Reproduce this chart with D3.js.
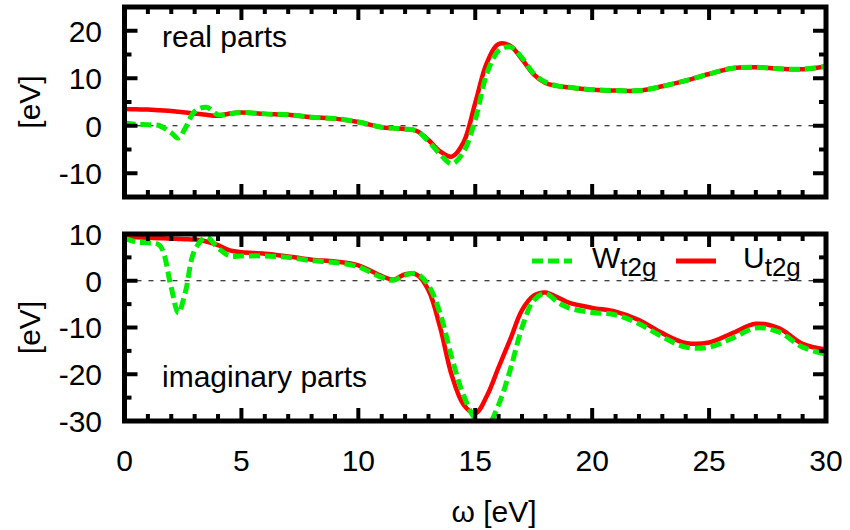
<!DOCTYPE html>
<html>
<head>
<meta charset="utf-8">
<script src="https://cdn.jsdelivr.net/npm/d3@7"></script>
<style>
	body { margin: 0; background: #fff; }
	svg { font-family: "Liberation Sans", Arial, Helvetica, sans-serif; }
</style>
</head>
<body>
<div id="chart"></div>
<script>
// omega grid [eV]
var omega = [0, 0.5, 1, 1.5, 2, 2.3, 2.6, 3, 3.5, 4, 4.5, 5, 6, 7, 8, 9, 10, 11, 11.5, 12, 12.5,
			 13, 13.5, 14, 14.5, 15, 15.5, 16, 16.5, 17, 17.5, 18, 18.5, 19, 20, 21, 22, 23, 24,
			 25, 26, 27, 28, 29, 30];

// real parts
var reU = [3.5, 3.45, 3.4, 3.25, 3.1, 2.95, 2.8, 2.6, 2.3, 2.1, 2.6, 2.8, 2.5, 2.3, 1.8, 1.5, 0.8, -0.3, -0.5, -0.7, -1.1,
		   -3.0, -5.4, -6.5, -3.5, 4.8, 13.3, 17.2, 16.8, 14.0, 10.8, 9.0, 8.4, 8.1, 7.6, 7.4, 7.4, 8.3, 9.5,
		   10.9, 12.1, 12.3, 12.0, 11.9, 12.5];
var reW = [0.6, 0.3, 0.2, 0.0, -1.5, -2.6, -0.5, 3.0, 3.9, 2.3, 2.5, 2.8, 2.5, 2.3, 1.8, 1.5, 0.8, -0.3, -0.5, -0.7, -1.1,
		   -3.3, -6.0, -8.0, -5.5, 1.3, 11.0, 15.8, 16.6, 14.3, 11.0, 9.2, 8.4, 8.1, 7.6, 7.4, 7.4, 8.3, 9.5,
		   10.9, 12.1, 12.3, 12.0, 11.9, 12.5];

// imaginary parts
var imU = [9.4, 9.3, 9.2, 9.1, 9.0, 8.95, 8.9, 8.8, 8.4, 7.6, 6.5, 6.1, 5.8, 5.2, 4.5, 4.1, 3.3, 1.0, 0.2, 1.4, 1.3,
		   -2.0, -10.0, -20.3, -26.5, -28.4, -24.6, -18.5, -12.5, -6.3, -3.2, -2.5, -3.5, -4.7, -5.8, -6.6, -8.4, -11.2, -13.3,
		   -13.2, -11.2, -9.2, -10.2, -13.5, -14.7];
var imW = [9.1, 8.3, 8.1, 7.6, -1.5, -6.9, -2.5, 6.5, 9.3, 7.0, 5.3, 5.3, 5.3, 5.0, 4.3, 3.9, 3.0, 0.7, 0.1, 1.2, 1.5,
		   -1.0, -7.0, -16.5, -24.5, -29.5, -31.0, -26.5, -19.0, -10.0, -4.2, -2.7, -4.5, -5.8, -6.8, -7.3, -9.2, -12.0, -14.2,
		   -14.2, -12.3, -10.1, -11.0, -14.2, -15.7];

var xTicks = [0, 5, 10, 15, 20, 25, 30];
var topTicks = [-10, 0, 10, 20];
var botTicks = [-30, -20, -10, 0, 10];
var legendNames = ["W", "U"];

const width = 850;
const height = 530;
const frameLeft = 124.5;
const frameRight = 826;
const fontSize = 30;
const wColor = "#00ee00";
const uColor = "#ff0000";

var svg = d3.select("#chart").append("svg")
	.attr("width", width)
	.attr("height", height)
	.style("font-size", fontSize + "px");

var x = d3.scaleLinear().domain([0, 30]).range([frameLeft, frameRight]);

var panels = [
	{ id: "re", domain: [-15, 25], range: [197, 7], ticks: topTicks, u: reU, w: reW, label: "real parts", labelY: 47 },
	{ id: "im", domain: [-30, 10], range: [421, 234], ticks: botTicks, u: imU, w: imW, label: "imaginary parts", labelY: 387 }
];

panels.forEach(function (p, pi) {
	var y = d3.scaleLinear().domain(p.domain).range(p.range);
	var top = p.range[1], bottom = p.range[0];

	svg.append("clipPath")
		.attr("id", "clip_" + p.id)
		.append("rect")
		.attr("x", frameLeft)
		.attr("y", top)
		.attr("width", frameRight - frameLeft)
		.attr("height", bottom - top);

	var g = svg.append("g");

	// zero line
	g.append("line")
		.attr("x1", frameLeft).attr("x2", frameRight)
		.attr("y1", y(0)).attr("y2", y(0))
		.attr("stroke", "#000")
		.attr("stroke-width", 1)
		.attr("stroke-dasharray", "5,7");

	var line = d3.line()
		.x((d, i) => x(omega[i]))
		.y(d => y(d))
		.curve(d3.curveCatmullRom.alpha(0.5));

	var curves = g.append("g").attr("clip-path", "url(#clip_" + p.id + ")");

	curves.append("path")
		.datum(p.u)
		.attr("d", line)
		.attr("fill", "none")
		.attr("stroke", uColor)
		.attr("stroke-width", 4.5);

	curves.append("path")
		.datum(p.w)
		.attr("d", line)
		.attr("fill", "none")
		.attr("stroke", wColor)
		.attr("stroke-width", 5)
		.attr("stroke-dasharray", "11,5");

	// ticks (inward, on all four sides)
	var minorX = d3.range(0, 31, 1).filter(v => v % 5 != 0);
	var minorY = d3.range(p.domain[0], p.domain[1] + 1, 5).filter(v => v % 10 != 0);
	var tickG = g.append("g").attr("stroke", "#000").attr("stroke-width", 4);

	[[xTicks, 13], [minorX, 7]].forEach(function (t) {
		tickG.selectAll(null).data(t[0]).join("line")
			.attr("x1", d => x(d)).attr("x2", d => x(d))
			.attr("y1", bottom).attr("y2", bottom - t[1]);
		tickG.selectAll(null).data(t[0]).join("line")
			.attr("x1", d => x(d)).attr("x2", d => x(d))
			.attr("y1", top).attr("y2", top + t[1]);
	});
	[[p.ticks, 13], [minorY, 7]].forEach(function (t) {
		tickG.selectAll(null).data(t[0]).join("line")
			.attr("y1", d => y(d)).attr("y2", d => y(d))
			.attr("x1", frameLeft).attr("x2", frameLeft + t[1]);
		tickG.selectAll(null).data(t[0]).join("line")
			.attr("y1", d => y(d)).attr("y2", d => y(d))
			.attr("x1", frameRight).attr("x2", frameRight - t[1]);
	});

	// frame
	g.append("rect")
		.attr("x", frameLeft).attr("y", top)
		.attr("width", frameRight - frameLeft)
		.attr("height", bottom - top)
		.attr("fill", "none")
		.attr("stroke", "#000")
		.attr("stroke-width", 5);

	// y tick labels
	g.selectAll(null).data(p.ticks).join("text")
		.attr("x", 102)
		.attr("y", d => y(d))
		.attr("dy", "0.36em")
		.attr("text-anchor", "end")
		.text(d => d);

	// y axis title
	g.append("text")
		.attr("transform", `translate(29,${(top + bottom) / 2}) rotate(-90)`)
		.attr("text-anchor", "middle")
		.attr("dy", "0.36em")
		.text("[eV]");

	// panel label
	g.append("text")
		.attr("x", 162)
		.attr("y", p.labelY)
		.text(p.label);
});

// x tick labels
svg.append("g").selectAll("text").data(xTicks).join("text")
	.attr("x", d => x(d))
	.attr("y", 471)
	.attr("text-anchor", "middle")
	.text(d => d);

svg.append("text")
	.attr("x", 494)
	.attr("y", 522)
	.attr("text-anchor", "middle")
	.text("ω [eV]");

// legend
var legend = svg.append("g");
var legendItems = [
	{ name: legendNames[0], color: wColor, dash: "11,5", x0: 532, tx: 592 },
	{ name: legendNames[1], color: uColor, dash: null, x0: 676, tx: 743 }
];
legendItems.forEach(function (item) {
	legend.append("line")
		.attr("x1", item.x0).attr("x2", item.x0 + 40)
		.attr("y1", 261).attr("y2", 261)
		.attr("stroke", item.color)
		.attr("stroke-width", 5)
		.attr("stroke-dasharray", item.dash);
	var t = legend.append("text")
		.attr("x", item.tx)
		.attr("y", 268);
	t.append("tspan").text(item.name);
	t.append("tspan")
		.attr("dy", 8)
		.style("font-size", "26px")
		.text("t2g");
});
</script>
</body>
</html>
